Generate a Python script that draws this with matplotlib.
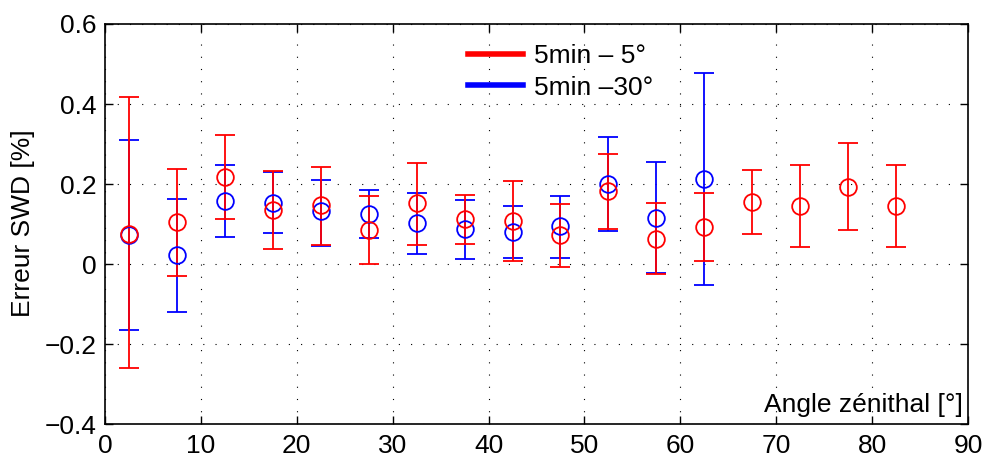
import numpy as np
import matplotlib.pyplot as plt
from matplotlib.lines import Line2D

plt.rcParams['font.family'] = ['Liberation Sans', 'DejaVu Sans']

# centres des classes d'angle zenithal
angle_5 = [2.5, 7.5, 12.5, 17.5, 22.5, 27.5, 32.5, 37.5, 42.5, 47.5, 52.5, 57.5, 62.5, 67.5, 72.5, 77.5, 82.5]
mean_5 = [0.075, 0.105, 0.218, 0.135, 0.148, 0.085, 0.152, 0.112, 0.108, 0.072, 0.182, 0.062, 0.092, 0.155, 0.145, 0.193, 0.145]
low_5 = [-0.26, -0.03, 0.112, 0.038, 0.048, 0.0, 0.048, 0.05, 0.008, -0.007, 0.088, -0.025, 0.008, 0.075, 0.042, 0.085, 0.042]
high_5 = [0.418, 0.238, 0.322, 0.232, 0.243, 0.17, 0.253, 0.173, 0.208, 0.15, 0.275, 0.152, 0.178, 0.235, 0.248, 0.303, 0.248]

angle_30 = [2.5, 7.5, 12.5, 17.5, 22.5, 27.5, 32.5, 37.5, 42.5, 47.5, 52.5, 57.5, 62.5]
mean_30 = [0.073, 0.022, 0.158, 0.153, 0.132, 0.125, 0.102, 0.087, 0.08, 0.095, 0.2, 0.115, 0.213]
low_30 = [-0.165, -0.12, 0.068, 0.078, 0.045, 0.065, 0.025, 0.012, 0.015, 0.015, 0.083, -0.023, -0.052]
high_30 = [0.31, 0.163, 0.248, 0.23, 0.21, 0.185, 0.178, 0.16, 0.145, 0.17, 0.318, 0.255, 0.478]

fs = 19

fig = plt.figure(figsize=(9.87, 4.58), dpi=100)
ax = fig.add_axes([0.1064, 0.0742, 0.8743, 0.8734])

def draw(x, m, lo, hi, col):
    m = np.array(m)
    yerr = [m - np.array(lo), np.array(hi) - m]
    ax.errorbar(x, m, yerr=yerr, fmt='o', color=col, mfc='none', mec=col,
                ms=12, mew=1.3, elinewidth=1.3, capsize=7.5, capthick=1.3)

draw(angle_30, mean_30, low_30, high_30, 'blue')
draw(angle_5, mean_5, low_5, high_5, 'red')

ax.set_xlim(0, 90)
ax.set_ylim(-0.4, 0.6)
ax.set_xticks(np.arange(0, 91, 10))
ax.set_yticks(np.arange(-0.4, 0.61, 0.2))
ax.set_yticklabels(['\u22120.4', '\u22120.2', '0', '0.2', '0.4', '0.6'])
ax.tick_params(direction='in', labelsize=fs, length=6, width=1, top=True, right=True)
ax.tick_params(axis='y', pad=6)
ax.tick_params(axis='x', pad=7)
ax.grid(True, linestyle=(0, (1, 10)), color='black', linewidth=0.8)
for s in ax.spines.values():
    s.set_linewidth(1.2)

fig.text(0.0233, 0.512, 'Erreur SWD [%]', rotation=90, ha='center', va='center', fontsize=fs)
ax.text(0.9942, 0.03, 'Angle zénithal [°]', transform=ax.transAxes,
        ha='right', va='baseline', fontsize=fs)

handles = [Line2D([], [], color='red', lw=4), Line2D([], [], color='blue', lw=4)]
ax.legend(handles, ['5min \u2013 5°', '5min \u201330°'], loc='upper left',
          bbox_to_anchor=(0.4205, 0.95), frameon=False, fontsize=fs,
          borderpad=0, borderaxespad=0,
          handlelength=2.08, handletextpad=0.42, labelspacing=0.29)

fig.savefig('out.png', dpi=100)
